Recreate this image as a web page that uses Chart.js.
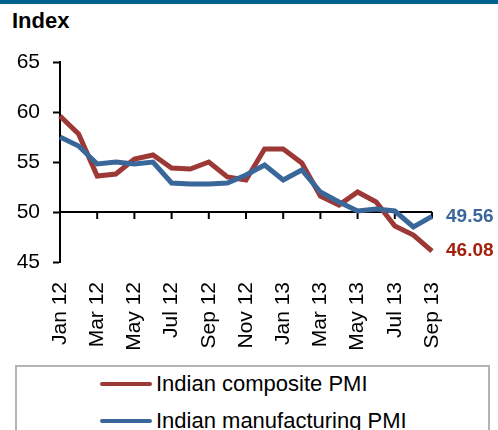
<!DOCTYPE html>
<html>
<head>
<meta charset="utf-8">
<script src="https://cdn.jsdelivr.net/npm/chart.js@4/dist/chart.umd.min.js"></script>
<style>
  body { margin: 0; background: #fff; font-family: "Liberation Sans", Arial, sans-serif; }
  #wrap { position: relative; width: 498px; height: 430px; overflow: hidden; }
  #band { position: absolute; left: 0; top: 0; width: 498px; height: 4px; background: #00628c; }
  #yTitle { position: absolute; left: 12px; top: 10px; font-size: 22px; font-weight: bold; line-height: 1; color: #000; }
  #box { position: absolute; left: 0; top: 0; width: 498px; height: 362px; }
  #legend { position: absolute; left: 15px; top: 365px; width: 471px; height: 80px;
            border: 2px solid #b4b4b4; border-bottom: none; }
  .row { position: absolute; left: 83px; height: 26px; display: flex; align-items: center; font-size: 22px; color: #000; }
  .row span.mark { display: inline-block; width: 52px; height: 4px; border-radius: 2px; margin-right: 4px; }
</style>
</head>
<body>
<div id="wrap">
  <div id="band"></div>
  <div id="yTitle">Index</div>
  <div id="box"><canvas id="myChart"></canvas></div>
  <div id="legend"></div>
</div>
<script>
// Données
const months = ['Jan 12', 'Feb 12', 'Mar 12', 'Apr 12', 'May 12', 'Jun 12', 'Jul 12', 'Aug 12', 'Sep 12', 'Oct 12', 'Nov 12', 'Dec 12',
                'Jan 13', 'Feb 13', 'Mar 13', 'Apr 13', 'May 13', 'Jun 13', 'Jul 13', 'Aug 13', 'Sep 13'];
const composite = [59.6, 57.8, 53.6, 53.8, 55.3, 55.7, 54.4, 54.3, 55.0, 53.5, 53.2, 56.3,
                   56.3, 54.9, 51.6, 50.7, 52.0, 51.0, 48.6, 47.7, 46.08];
const manufacturing = [57.5, 56.6, 54.8, 55.0, 54.8, 55.0, 52.9, 52.8, 52.8, 52.9, 53.7, 54.7,
                       53.2, 54.2, 52.0, 51.0, 50.1, 50.3, 50.1, 48.5, 49.56];
const yTicks = [45, 50, 55, 60, 65];
const seriesNames = ['Indian composite PMI', 'Indian manufacturing PMI'];

const RED = '#9c3836';
const BLUE = '#3a679a';
const axisFont = { family: 'Liberation Sans', size: 21 };

// Ligne à 50 avec les petits traits de l'axe des x, puis les étiquettes de fin
const extras = {
  id: 'extras',
  beforeDatasetsDraw(chart) {
    const { ctx, scales: { x, y } } = chart;
    const y50 = y.getPixelForValue(50);
    ctx.save();
    ctx.strokeStyle = '#000';
    ctx.lineWidth = 2;
    ctx.beginPath();
    ctx.moveTo(x.getPixelForValue(0), y50);
    ctx.lineTo(x.getPixelForValue(months.length - 1), y50);
    for (let i = 0; i < months.length; i += 2) {
      const px = x.getPixelForValue(i);
      ctx.moveTo(px, y50);
      ctx.lineTo(px, y50 + 7);
    }
    ctx.stroke();
    ctx.restore();
  },
  afterDatasetsDraw(chart) {
    const { ctx, scales: { x, y } } = chart;
    const last = months.length - 1;
    ctx.save();
    ctx.font = 'bold 19px "Liberation Sans"';
    ctx.textBaseline = 'middle';
    ctx.textAlign = 'left';
    ctx.fillStyle = BLUE;
    ctx.fillText(manufacturing[last].toFixed(2), x.getPixelForValue(last) + 14, y.getPixelForValue(manufacturing[last]));
    ctx.fillStyle = '#a3200f';
    ctx.fillText(composite[last].toFixed(2), x.getPixelForValue(last) + 14, y.getPixelForValue(composite[last]));
    ctx.restore();
  }
};

const myChart = new Chart(document.getElementById('myChart'), {
  type: 'line',
  data: {
    labels: months,
    datasets: [{
      label: seriesNames[0],
      data: composite,
      borderColor: RED,
      borderWidth: 5,
      pointRadius: 0,
      tension: 0,
      order: 1
    }, {
      label: seriesNames[1],
      data: manufacturing,
      borderColor: BLUE,
      borderWidth: 5,
      pointRadius: 0,
      tension: 0,
      order: 0
    }]
  },
  options: {
    responsive: true,
    maintainAspectRatio: false,
    animation: false,
    layout: { padding: { top: 62, right: 66, left: 0, bottom: 0 } },
    plugins: { legend: { display: false }, tooltip: { enabled: false } },
    scales: {
      x: {
        offset: false,
        grid: { display: false },
        border: { display: false },
        ticks: {
          autoSkip: false,
          minRotation: 90,
          maxRotation: 90,
          padding: 12,
          color: '#000',
          font: axisFont,
          callback: (v, i) => (i % 2 === 0 ? months[i] : '')
        },
        afterFit: s => { s.height = 100; }
      },
      y: {
        min: 45,
        max: 65,
        afterBuildTicks: s => { s.ticks = yTicks.map(v => ({ value: v })); },
        grid: { drawOnChartArea: false, tickLength: 7, tickColor: '#000', tickWidth: 2 },
        border: { color: '#000', width: 2 },
        ticks: { padding: 13, color: '#000', font: axisFont },
        afterFit: s => { s.width = 60; }
      }
    }
  },
  plugins: [extras]
});

// Légende HTML construite depuis les séries du graphique
const legend = document.getElementById('legend');
myChart.data.datasets.forEach((ds, i) => {
  const row = document.createElement('div');
  row.className = 'row';
  row.style.top = (4 + i * 37) + 'px';
  row.innerHTML = '<span class="mark" style="background:' + ds.borderColor + '"></span>' + ds.label;
  legend.appendChild(row);
});
</script>
</body>
</html>
